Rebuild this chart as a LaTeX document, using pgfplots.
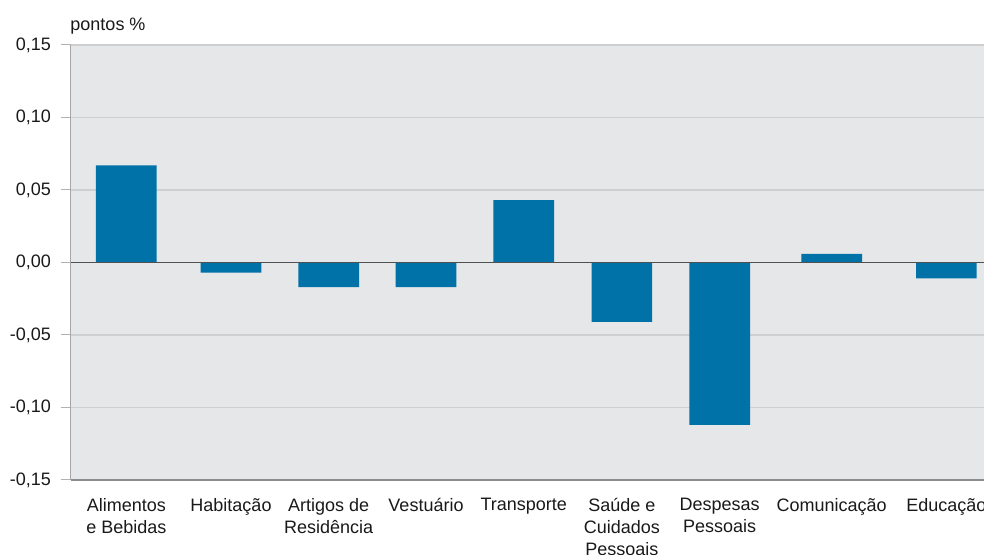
\documentclass[border=0pt]{standalone}
\usepackage{pgfplots}
\pgfplotsset{compat=1.18}
\usepackage{fontspec}
\setmainfont{Liberation Sans}
\definecolor{barc}{RGB}{0,114,168}
\definecolor{bgc}{RGB}{230,231,233}
\definecolor{gridc}{RGB}{206,207,209}
\definecolor{txtc}{RGB}{25,25,25}
\definecolor{zeroc}{RGB}{80,80,80}
\begin{document}
\begin{tikzpicture}
\begin{axis}[
  name=ax,
  scale only axis,
  width=456.5pt, height=217.5pt,
  xmin=71, xmax=984,
  ymin=-0.15, ymax=0.15,
  axis background/.style={fill=bgc},
  axis x line=bottom, axis y line=left,
  x axis line style={-, draw=gray!90, line width=0.8pt},
  y axis line style={-, draw=gray!70, line width=0.5pt},
  ytick={-0.15,-0.10,-0.05,0,0.05,0.10,0.15},
  yticklabels={{-0,15},{-0,10},{-0,05},{0,00},{0,05},{0,10},{0,15}},
  ymajorgrids,
  major grid style={draw=gridc, line width=0.6pt},
  tick align=outside,
  major tick length=5pt,
  y tick style={draw=gray!60, line width=0.5pt},
  x tick style={draw=none},
  yticklabel style={font=\fontsize{9}{11}\selectfont, text=txtc, xshift=-1.5pt},
  xtick={126.3,231,328.7,426,523.7,621.8,719.7,831.7,946.3},
  xticklabels={{Alimentos\\e Bebidas},Habitação,{Artigos de\\Residência},Vestuário,Transporte,{Saúde e\\Cuidados\\Pessoais},{Despesas\\Pessoais},Comunicação,Educação},
  xticklabel style={align=center, font=\fontsize{9}{11}\selectfont, text=txtc, yshift=-0.5pt},
]
\addplot[ybar, bar width=30.3pt, fill=barc, draw=none] coordinates {
  (126.3,0.067) (231,-0.007) (328.7,-0.017) (426,-0.017) (523.7,0.043)
  (621.8,-0.041) (719.7,-0.112) (831.7,0.006) (946.3,-0.011)
};
\addplot[draw=zeroc, line width=0.8pt] coordinates {(71,0) (984,0)};
\end{axis}
\node[anchor=base west, font=\fontsize{9}{11}\selectfont, text=txtc] at ([yshift=7pt,xshift=-3.8pt]ax.north west) {pontos \%};
\pgfresetboundingbox
\useasboundingbox ([xshift=-35.5pt,yshift=-37.5pt]ax.south west) rectangle ([yshift=22.5pt]ax.north east);
\end{tikzpicture}
\end{document}
